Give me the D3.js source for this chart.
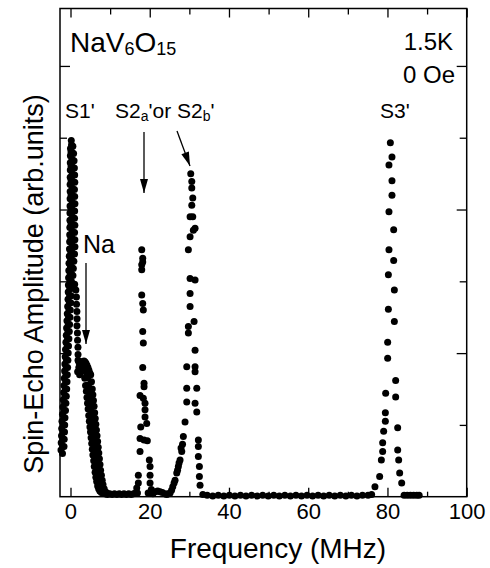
<!DOCTYPE html>
<html><head><meta charset="utf-8">
<script src="https://cdn.jsdelivr.net/npm/d3@7"></script>
<style>
html,body{margin:0;padding:0;background:#fff;}
svg{display:block;}
text{font-family:"Liberation Sans",Arial,Helvetica,sans-serif;fill:#000;}
</style></head><body>
<svg id="chart" width="490" height="568"></svg>
<script>
// ---- data ----
const xTicksMajor = [0, 20, 40, 60, 80, 100];
const xTicksMinor = [10, 30, 50, 70, 90];
const yTicksMajor = [2, 4, 6];
const yTicksMinor = [1, 3, 5];

// S1' peak with Na shoulder (dense scan, several sweeps)
const s1Peak = [
 [-2.40,0.65],[-2.35,0.75],[-2.27,0.85],[-2.22,0.95],[-2.15,1.05],[-2.02,1.15],[-1.92,1.25],[-1.82,1.35],[-1.72,1.45],[-1.64,1.55],
 [-1.57,1.65],[-1.49,1.75],[-1.42,1.85],[-1.34,1.95],[-1.26,2.05],[-1.16,2.15],[-1.06,2.25],[-0.99,2.35],[-0.89,2.45],[-0.81,2.55],
 [-0.71,2.65],[-0.63,2.75],[-0.58,2.85],[-0.53,2.95],[-0.48,3.05],[-0.43,3.15],[-0.38,3.25],[-0.30,3.35],[-0.26,3.45],[-0.22,3.55],
 [-0.20,3.65],[-0.17,3.75],[-0.15,3.85],[-0.14,3.95],[-0.12,4.05],[-0.10,4.15],[-0.08,4.25],[-0.10,4.35],[-0.07,4.45],[-0.05,4.55],
 [-0.06,4.65],[-0.03,4.75],[0.00,4.85],
 [-2.02,0.60],[-1.99,0.70],[-1.93,0.80],[-1.86,0.90],[-1.80,1.00],[-1.70,1.10],[-1.59,1.20],[-1.49,1.30],[-1.39,1.40],[-1.30,1.50],
 [-1.22,1.60],[-1.15,1.70],[-1.07,1.80],[-1.00,1.90],[-0.92,2.00],[-0.83,2.10],[-0.73,2.20],[-0.64,2.30],[-0.56,2.40],[-0.47,2.50],
 [-0.38,2.60],[-0.29,2.70],[-0.22,2.80],[-0.17,2.90],[-0.12,3.00],[-0.07,3.10],[-0.02,3.20],[0.03,3.30],[0.08,3.40],[0.10,3.60],
 [0.12,3.80],[0.13,4.00],[0.15,4.20],[0.14,4.40],[0.15,4.60],[0.12,4.80],
 [-1.64,0.70],[-1.59,0.80],[-1.51,0.90],[-1.46,1.00],[-1.39,1.10],[-1.26,1.20],[-1.16,1.30],[-1.06,1.40],[-0.96,1.50],[-0.88,1.60],
 [-0.81,1.70],[-0.73,1.80],[-0.66,1.90],[-0.58,2.00],[-0.50,2.10],[-0.40,2.20],[-0.30,2.30],[-0.23,2.40],[-0.13,2.50],[-0.05,2.60],
 [0.05,2.70],[0.13,2.80],[0.18,2.90],[0.23,3.00],[0.28,3.10],[0.33,3.20],[0.38,3.30],[0.40,3.40],[0.42,3.50],[0.40,3.60],
 [0.44,3.70],[0.42,3.80],[0.45,3.90],[0.43,4.00],[0.46,4.10],[0.44,4.20],[0.45,4.30],[0.42,4.40],[0.44,4.50],[0.40,4.60],
 [0.38,4.70],[0.33,4.80],[0.25,4.90],[0.20,4.96],
 [0.60,4.88],[0.78,4.78],[0.90,4.68],[0.98,4.58],[1.05,4.48],[1.08,4.38],[1.00,4.28],[1.06,4.18],[1.12,4.08],[1.05,3.98],
 [1.02,3.88],[1.10,3.78],[1.03,3.68],[1.10,3.58],[1.12,3.48],[1.02,3.38],[0.85,3.28],[0.72,3.18],[0.62,3.08],
 [1.05,2.96],[1.35,2.88],[1.50,2.78],[1.52,2.68],[1.62,2.58],[1.65,2.48],[1.63,2.38],[1.75,2.28],[1.78,2.18],[1.88,2.08],[1.90,1.98],
 [1.9,1.90],[2.15,1.87],[2.4,1.86],[2.65,1.87],[2.9,1.88],[3.15,1.88],[3.4,1.89],[3.65,1.88],[3.9,1.86],[4.15,1.83],[4.4,1.80],[4.65,1.76],[4.9,1.72],
 [2.1,1.80],[2.6,1.78],[3.1,1.81],[3.6,1.81],[4.1,1.79],[4.6,1.74],
 [1.8,1.74],[2.3,1.70],[2.8,1.75],[3.3,1.77],[3.8,1.74],[4.3,1.67],
 [3.6,1.65],[3.8,1.55],[4.0,1.47],[4.15,1.38],[4.3,1.30],[4.45,1.22],[4.6,1.13],[4.75,1.05],[4.9,0.97],[5.05,0.90],
 [5.2,0.82],[5.35,0.74],[5.5,0.66],[5.65,0.58],[5.85,0.50],[6.0,0.42],[6.2,0.34],[6.4,0.27],[6.6,0.21],[6.85,0.15],
 [7.1,0.11],[7.4,0.08],[7.8,0.06],[8.2,0.05],
 [4.35,1.66],[4.55,1.56],[4.75,1.48],[4.9,1.40],[5.05,1.32],[5.2,1.24],[5.35,1.15],[5.5,1.07],[5.65,0.99],[5.8,0.91],
 [5.95,0.83],[6.1,0.75],[6.25,0.67],[6.4,0.59],[6.6,0.51],[6.75,0.43],[6.95,0.35],[7.15,0.28],[7.35,0.21],[7.6,0.15],
 [7.9,0.10],[8.2,0.08],[8.6,0.05],
 [5.1,1.70],[5.3,1.60],[5.5,1.50],[5.65,1.42],[5.8,1.34],[5.95,1.26],[6.1,1.17],[6.25,1.09],[6.4,1.01],[6.55,0.93],
 [6.7,0.85],[6.85,0.77],[7.0,0.69],[7.15,0.61],[7.3,0.53],[7.45,0.45],[7.6,0.37],[7.8,0.30],[8.0,0.23],[8.2,0.17],
 [8.5,0.11],[8.8,0.07],[9.2,0.05]
];

// S2a' peak
const s2aPeak = [
 [17.98,3.44],[18.23,3.32],[18.23,3.27],[17.98,3.23],[17.98,3.16],[17.98,2.81],[18.23,2.69],[18.38,2.60],[18.23,2.30],[18.38,2.14],
 [18.23,1.80],[18.56,1.58],[18.56,1.53],[17.55,1.41],[18.38,1.37],[18.81,1.30],[18.81,1.21],[18.81,1.11],[19.24,1.02],[17.73,0.97],
 [17.55,0.81],[18.56,0.79],[19.39,0.78],[17.55,0.63],[19.90,0.51],[20.08,0.42],[17.12,0.30],[20.08,0.30],[17.12,0.19],[20.08,0.19],
 [16.72,0.12],[20.40,0.10],[16.90,0.05],[19.60,0.05]
];

// S2b' peak
const s2bPeak = [
 [30.35,4.50],[30.61,4.39],[30.61,4.30],[30.86,4.16],[30.61,4.06],[30.18,3.90],[30.86,3.90],[31.44,3.74],[31.01,3.71],[30.18,3.62],
 [29.75,3.44],[30.18,3.04],[31.44,3.02],[30.18,2.83],[30.18,2.65],[31.19,2.44],[29.75,2.37],[29.75,2.28],[31.44,2.04],[29.34,1.81],
 [31.44,1.81],[31.44,1.74],[29.34,1.51],[31.87,1.51],[29.34,1.32],[31.44,1.30],[31.87,1.18],[28.91,1.04],[28.48,0.84],[32.27,0.79],
 [32.27,0.70],[32.27,0.56],[32.53,0.42],[32.53,0.28],[32.70,0.16],[28.28,0.73],[28.08,0.63],[27.90,0.68],[27.65,0.51],[27.40,0.47],
 [27.22,0.42],[27.02,0.37],[26.82,0.33],[26.39,0.23],[26.14,0.19],[25.81,0.14],[25.51,0.09],[25.13,0.05],[24.62,0.04]
];

// S3' peak
const s3Peak = [
 [80.73,4.93],[81.14,4.73],[80.38,4.62],[81.14,4.40],[81.14,4.20],[80.38,3.97],[81.57,3.72],[80.38,3.44],[81.57,3.29],[80.23,3.09],
 [81.74,2.88],[80.23,2.61],[81.74,2.44],[80.05,2.15],[80.05,1.93],[82.07,1.62],[79.55,1.44],[82.07,1.39],[79.47,1.17],[79.47,1.05],
 [82.58,0.96],[79.04,0.91],[78.79,0.75],[78.79,0.63],[82.58,0.65],[78.46,0.51],[82.83,0.51],[78.03,0.28],[83.08,0.33],[76.84,0.14],
 [83.59,0.19]
];

// baseline (no signal)
const baseline = [
 [8.7,0.04],[9.3,0.03],[9.9,0.04],[10.5,0.03],[11.1,0.04],[11.7,0.03],[12.3,0.04],[12.9,0.03],[13.5,0.04],[14.1,0.03],
 [14.7,0.04],[15.3,0.03],[15.9,0.04],[16.4,0.05],
 [20.8,0.04],[21.4,0.07],[22.0,0.08],[22.6,0.07],[23.2,0.06],[23.8,0.04],[24.3,0.03],
 [33.4,0.03],[34.5,0.02],[35.9,0.01],[37.3,0.02],[38.7,0.01],[40.1,0.02],[41.5,0.01],[42.9,0.02],[44.3,0.01],[45.7,0.02],
 [47.1,0.01],[48.5,0.02],[49.9,0.01],[51.3,0.02],[52.7,0.01],[54.1,0.02],[55.5,0.01],[56.9,0.02],[58.3,0.01],[59.7,0.02],
 [61.1,0.01],[62.5,0.02],[63.9,0.01],[65.3,0.02],[66.7,0.01],[68.1,0.02],[69.5,0.01],[70.9,0.02],[72.3,0.01],[73.7,0.02],
 [75.1,0.02],[76.0,0.03],
 [84.2,0.02],[85.0,0.02],[85.8,0.02],[86.6,0.02],[87.4,0.02],[88.0,0.02]
];

// ---- layout ----
const W = 490, H = 568;
const m = {left: 60, top: 8.5, right: 23.3, bottom: 71.3};
const x = d3.scaleLinear().domain([-2.65, 100]).range([m.left, W - m.right]);
const y = d3.scaleLinear().domain([0, 6.8]).range([H - m.bottom, m.top]);
const svg = d3.select('#chart');
const ff = '"Liberation Sans",Arial,Helvetica,sans-serif';

function styleAxis(g) {
  g.select('.domain').remove();
  g.selectAll('.tick line').attr('stroke', '#000').attr('stroke-width', 1.3);
}
// bottom axis
svg.append('g').attr('transform', `translate(0,${y(0)})`)
  .call(d3.axisBottom(x).tickValues(xTicksMajor).tickSize(-9).tickPadding(7).tickFormat(d3.format('d')))
  .attr('font-size', 22).attr('font-family', ff).call(styleAxis);
svg.append('g').attr('transform', `translate(0,${y(0)})`)
  .call(d3.axisBottom(x).tickValues(xTicksMinor).tickSize(-5).tickFormat('')).call(styleAxis);
// top axis
svg.append('g').attr('transform', `translate(0,${m.top})`)
  .call(d3.axisTop(x).tickValues(xTicksMajor).tickSize(-9).tickFormat('')).call(styleAxis);
svg.append('g').attr('transform', `translate(0,${m.top})`)
  .call(d3.axisTop(x).tickValues(xTicksMinor).tickSize(-6).tickFormat('')).call(styleAxis);
// left / right axes
svg.append('g').attr('transform', `translate(${m.left},0)`)
  .call(d3.axisLeft(y).tickValues(yTicksMajor).tickSize(-10).tickFormat('')).call(styleAxis);
svg.append('g').attr('transform', `translate(${m.left},0)`)
  .call(d3.axisLeft(y).tickValues(yTicksMinor).tickSize(-7).tickFormat('')).call(styleAxis);
svg.append('g').attr('transform', `translate(${W - m.right},0)`)
  .call(d3.axisRight(y).tickValues(yTicksMajor).tickSize(-10).tickFormat('')).call(styleAxis);
svg.append('g').attr('transform', `translate(${W - m.right},0)`)
  .call(d3.axisRight(y).tickValues(yTicksMinor).tickSize(-7).tickFormat('')).call(styleAxis);

// frame
svg.append('rect')
  .attr('x', x(-2.65)).attr('y', y(6.8))
  .attr('width', x(100) - x(-2.65)).attr('height', y(0) - y(6.8))
  .attr('fill', 'none').attr('stroke', '#000').attr('stroke-width', 1.5);

// points
const allSeries = [baseline, s1Peak, s2aPeak, s2bPeak, s3Peak];
const gp = svg.append('g');
allSeries.forEach(s => {
  gp.selectAll(null).data(s).join('circle')
    .attr('cx', d => x(d[0])).attr('cy', d => y(d[1])).attr('r', 3.5).attr('fill', '#000');
});

// ---- texts ----
const t = svg.append('text').attr('x', 70).attr('y', 52).attr('font-size', 28);
t.append('tspan').text('NaV');
t.append('tspan').attr('font-size', 18).attr('dy', 3).text('6');
t.append('tspan').attr('font-size', 28).attr('dy', -3).text('O');
t.append('tspan').attr('font-size', 18).attr('dy', 3).text('15');

svg.append('text').attr('x', 453).attr('y', 50).attr('font-size', 24).attr('text-anchor', 'end').text('1.5K');
svg.append('text').attr('x', 455).attr('y', 83).attr('font-size', 24).attr('text-anchor', 'end').text('0 Oe');

svg.append('text').attr('x', 65).attr('y', 118).attr('font-size', 21).text("S1'");
const t2 = svg.append('text').attr('x', 115).attr('y', 118).attr('font-size', 21);
t2.append('tspan').text('S2');
t2.append('tspan').attr('font-size', 14).attr('dy', 3).text('a');
t2.append('tspan').attr('font-size', 21).attr('dy', -3).text("'or S2");
t2.append('tspan').attr('font-size', 14).attr('dy', 3).text('b');
t2.append('tspan').attr('font-size', 21).attr('dy', -3).text("'");
svg.append('text').attr('x', 380).attr('y', 118).attr('font-size', 21).text("S3'");
svg.append('text').attr('x', 83).attr('y', 253).attr('font-size', 25).text('Na');

// arrows
function arrow(x1, y1, x2, y2) {
  svg.append('line').attr('x1', x1).attr('y1', y1).attr('x2', x2).attr('y2', y2)
    .attr('stroke', '#000').attr('stroke-width', 1.3);
  const a = Math.atan2(y2 - y1, x2 - x1), L = 14, w = 4;
  const bx = x2 - L * Math.cos(a), by = y2 - L * Math.sin(a);
  const px = -Math.sin(a) * w, py = Math.cos(a) * w;
  svg.append('path').attr('d', `M${x2},${y2}L${bx + px},${by + py}L${bx - px},${by - py}Z`).attr('fill', '#000');
}
arrow(86, 263, 86, 344);
arrow(144, 132, 144, 193);
arrow(177, 131, 190, 166);

// axis titles
svg.append('text').attr('x', 278).attr('y', 558).attr('font-size', 28).attr('text-anchor', 'middle').text('Frequency (MHz)');
svg.append('text').attr('transform', 'translate(43,284) rotate(-90)').attr('font-size', 27)
  .attr('text-anchor', 'middle').text('Spin-Echo Amplitude (arb.units)');
</script>
</body></html>
